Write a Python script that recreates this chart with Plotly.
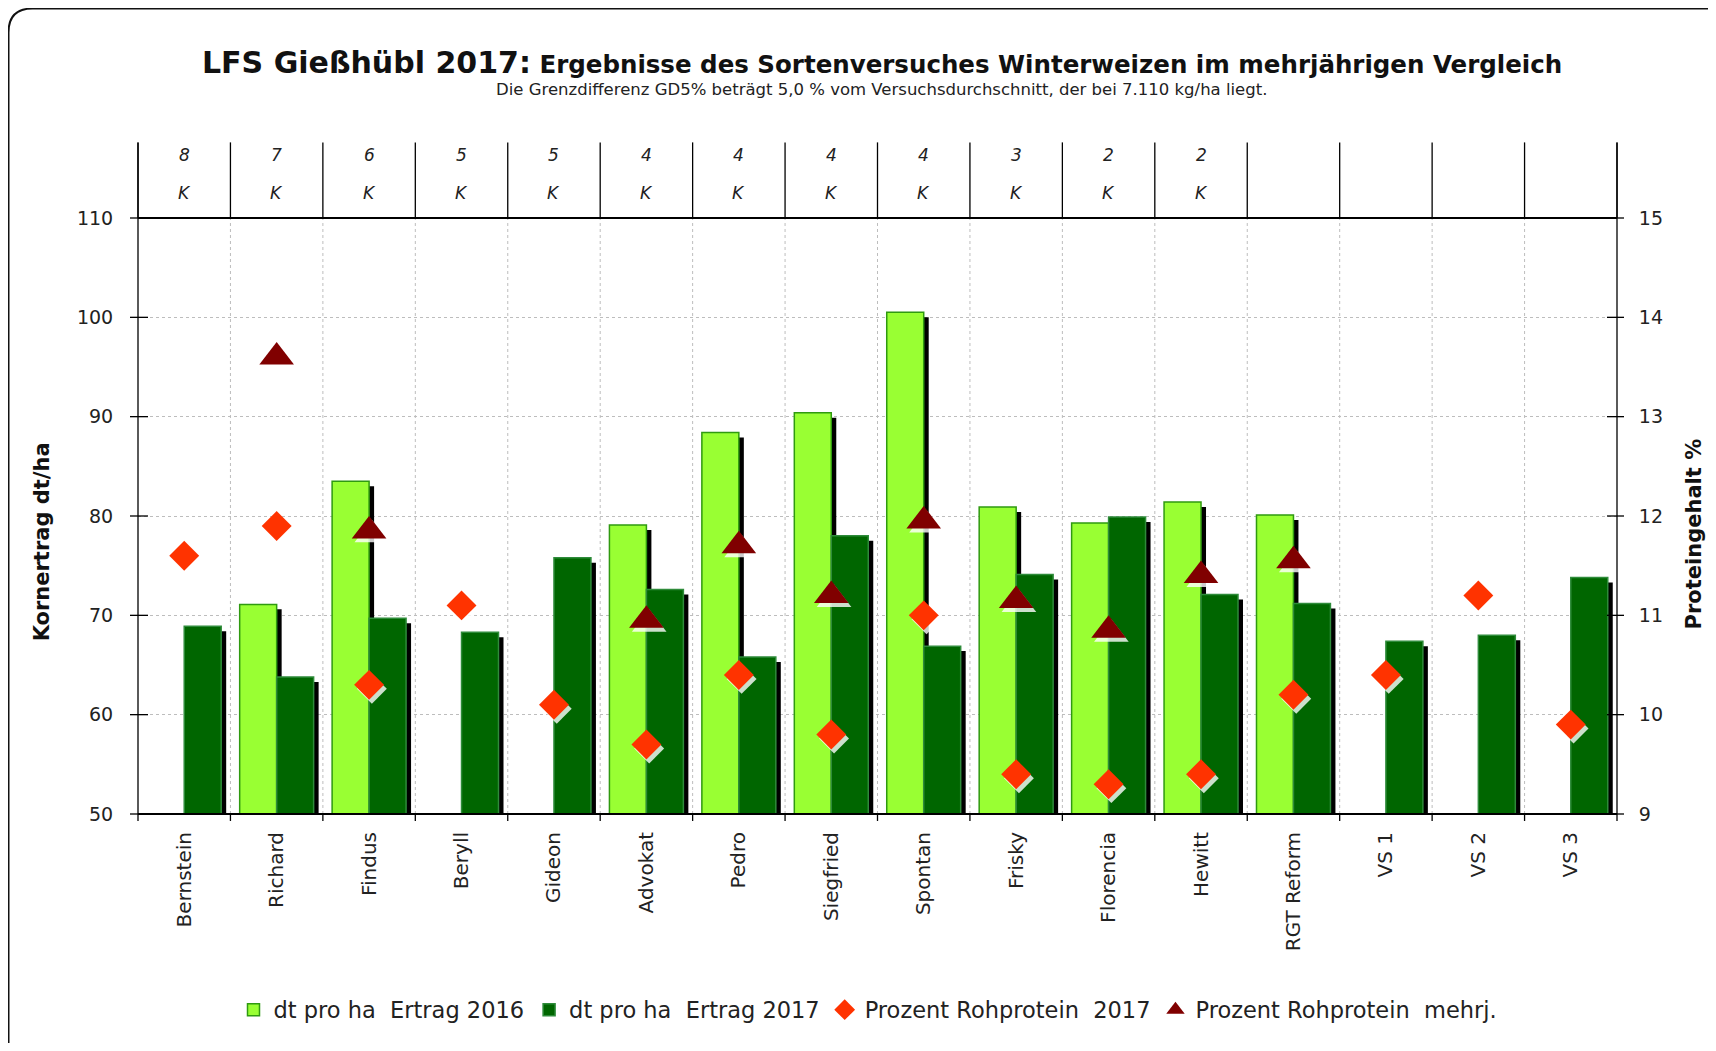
import plotly.graph_objects as go

# ---------------- data ----------------
categories = ["Bernstein", "Richard", "Findus", "Beryll", "Gideon", "Advokat", "Pedro",
              "Siegfried", "Spontan", "Frisky", "Florencia", "Hewitt", "RGT Reform",
              "VS 1", "VS 2", "VS 3"]
ertrag_2016 = [None, 71.1, 83.5, None, None, 79.1, 88.4, 90.4, 100.5, 80.9, 79.3, 81.4, 80.1,
               None, None, None]
ertrag_2017 = [68.9, 63.8, 69.7, 68.3, 75.8, 72.6, 65.8, 78.0, 66.9, 74.1, 79.9, 72.1, 71.2,
               67.4, 68.0, 73.8]
protein_2017 = [11.6, 11.9, 10.3, 11.1, 10.1, 9.7, 10.4, 9.8, 11.0, 9.4, 9.3, 9.4, 10.2,
                10.4, 11.2, 9.9]
protein_mehrj = [None, 13.6, 11.85, None, None, 10.95, 11.7, 11.2, 11.95, 11.15, 10.85, 11.4,
                 11.55, None, None, None]
jahre = ["8", "7", "6", "5", "5", "4", "4", "4", "4", "3", "2", "2", "", "", "", ""]
kennung = ["K"] * 12 + [""] * 4

left_ticks = [50, 60, 70, 80, 90, 100, 110]
right_ticks = [9, 10, 11, 12, 13, 14, 15]

# ---------------- layout geometry (screen pixels) ----------------
OFF = 8                      # page body margin
W, H = 1716 - 2 * OFF, 1051 - 2 * OFF
PL, PT, PR, PB = 138, 218, 1617, 817   # plot area on screen
PW, PH = PR - PL, PB - PT
ML, MT = PL - OFF, PT - OFF
MR, MB = W - ML - PW, H - MT - PH


def px_x(px):
    return (px - PL) / PW


def px_y(py):
    return (PB - py) / PH


FONT = "DejaVu Sans, Verdana, sans-serif"
LIGHT = "#99ff33"
DARK = "#006600"
n = len(categories)
xs = list(range(n))

SHX = 0.054   # shadow offset (category units)
SHY = 0.5     # shadow drop (left axis units)

fig = go.Figure()

fig.add_trace(go.Bar(x=xs, y=[None if v is None else v - SHY for v in ertrag_2016],
                     offset=-0.4 + SHX, width=0.4, marker=dict(color="black", line=dict(width=0)),
                     showlegend=False, hoverinfo="skip"))
fig.add_trace(go.Bar(x=xs, y=ertrag_2016, offset=-0.4, width=0.4, name="dt pro ha\u00a0 Ertrag 2016",
                     marker=dict(color=LIGHT, line=dict(color="#2f9a10", width=1.5))))
fig.add_trace(go.Bar(x=xs, y=[None if v is None else v - SHY for v in ertrag_2017],
                     offset=0 + SHX, width=0.4, marker=dict(color="black", line=dict(width=0)),
                     showlegend=False, hoverinfo="skip"))
fig.add_trace(go.Bar(x=xs, y=ertrag_2017, offset=0, width=0.4, name="dt pro ha\u00a0 Ertrag 2017",
                     marker=dict(color=DARK, line=dict(color="#2e8b3a", width=1.5))))

fig.add_trace(go.Scatter(x=[i + 0.03 for i in xs], y=[None if v is None else v - 0.04 for v in protein_2017],
                         mode="markers", yaxis="y2", showlegend=False, hoverinfo="skip",
                         marker=dict(symbol="diamond", size=23, color="rgba(255,255,255,0.8)")))
fig.add_trace(go.Scatter(x=[i + 0.03 for i in xs], y=[None if v is None else v - 0.04 for v in protein_mehrj],
                         mode="markers", yaxis="y2", showlegend=False, hoverinfo="skip",
                         marker=dict(symbol="triangle-up", size=30, color="rgba(255,255,255,0.8)")))

fig.add_trace(go.Scatter(x=xs, y=protein_2017, mode="markers", yaxis="y2",
                         name="Prozent Rohprotein\u00a0 2017",
                         marker=dict(symbol="diamond", size=23, color="#ff3300", line=dict(width=0))))
fig.add_trace(go.Scatter(x=xs, y=protein_mehrj, mode="markers", yaxis="y2",
                         name="Prozent Rohprotein\u00a0 mehrj.",
                         marker=dict(symbol="triangle-up", size=30, color="#800000", line=dict(width=0))))

shapes = []
line_black = dict(color="black", width=1.3)
grid = dict(color="#bdbdbd", width=1, dash="dot")
hdr_top = px_y(142)

for b in range(n + 1):
    xp = b / n
    if 0 < b < n:
        shapes.append(dict(type="line", xref="paper", yref="paper", x0=xp, x1=xp, y0=0, y1=1, line=grid))
    shapes.append(dict(type="line", xref="paper", yref="paper", x0=xp, x1=xp, y0=1, y1=hdr_top, line=line_black))
    shapes.append(dict(type="line", xref="paper", yref="paper", x0=xp, x1=xp, y0=0, y1=-7 / PH, line=line_black))

shapes.append(dict(type="line", xref="paper", yref="paper", x0=0, x1=0, y0=0, y1=hdr_top, line=line_black))
shapes.append(dict(type="line", xref="paper", yref="paper", x0=1, x1=1, y0=0, y1=hdr_top, line=line_black))
shapes.append(dict(type="line", xref="paper", yref="paper", x0=0, x1=1, y0=0, y1=0, line=dict(color="black", width=2)))
shapes.append(dict(type="line", xref="paper", yref="paper", x0=0, x1=1, y0=1, y1=1, line=dict(color="black", width=2)))

for v in left_ticks:
    yp = (v - left_ticks[0]) / (left_ticks[-1] - left_ticks[0])
    shapes.append(dict(type="line", xref="paper", yref="paper", x0=-8 / PW, x1=10 / PW, y0=yp, y1=yp, line=line_black))
    shapes.append(dict(type="line", xref="paper", yref="paper", x0=1 - 10 / PW, x1=1 + 7 / PW, y0=yp, y1=yp, line=line_black))

bx0, by0, bx1, by1, r = 8.5, 7.5, 1760, 1075, 24
path = (f"M {px_x(bx1)},{px_y(by1)} L {px_x(bx0 + r)},{px_y(by1)} "
        f"Q {px_x(bx0)},{px_y(by1)} {px_x(bx0)},{px_y(by1 - r)} "
        f"L {px_x(bx0)},{px_y(by0 + r)} Q {px_x(bx0)},{px_y(by0)} {px_x(bx0 + r)},{px_y(by0)} "
        f"L {px_x(bx1)},{px_y(by0)}")
shapes.append(dict(type="path", xref="paper", yref="paper", path=path, line=dict(color="#111", width=2)))

annotations = []
for i in xs:
    if jahre[i]:
        annotations.append(dict(x=i, y=px_y(155), xref="x", yref="paper", text=f"<i>{jahre[i]}</i>",
                                showarrow=False, xanchor="center", yanchor="middle",
                                font=dict(family=FONT, size=17, color="#222")))
    if kennung[i]:
        annotations.append(dict(x=i, y=px_y(193), xref="x", yref="paper", text=f"<i>{kennung[i]}</i>",
                                showarrow=False, xanchor="center", yanchor="middle",
                                font=dict(family=FONT, size=17, color="#222")))

annotations.append(dict(x=px_x(882), y=px_y(62), xref="paper", yref="paper", showarrow=False,
                        xanchor="center", yanchor="middle",
                        text="<b><span style='font-size:30px'>LFS Gießhübl 2017:</span> "
                             "Ergebnisse des Sortenversuches Winterweizen im mehrjährigen Vergleich</b>",
                        font=dict(family=FONT, size=24.5, color="#111")))
annotations.append(dict(x=px_x(881), y=px_y(89), xref="paper", yref="paper", showarrow=False,
                        xanchor="center", yanchor="middle",
                        text="Die Grenzdifferenz GD5% beträgt 5,0 % vom Versuchsdurchschnitt, der bei 7.110 kg/ha liegt.",
                        font=dict(family=FONT, size=16.5, color="#222")))
annotations.append(dict(x=px_x(42), y=px_y(544), xref="paper", yref="paper", showarrow=False,
                        xanchor="center", yanchor="middle",
                        text="<b>Kornertrag dt/ha</b>", textangle=-90,
                        font=dict(family=FONT, size=21, color="#111")))
annotations.append(dict(x=px_x(1694), y=px_y(536), xref="paper", yref="paper", showarrow=False,
                        xanchor="center", yanchor="middle",
                        text="<b>Proteingehalt %</b>", textangle=-90,
                        font=dict(family=FONT, size=21, color="#111")))

fig.update_layout(
    width=W, height=H,
    margin=dict(l=ML, r=MR, t=MT, b=MB, pad=0),
    paper_bgcolor="white", plot_bgcolor="white",
    barmode="overlay",
    font=dict(family=FONT, color="#222"),
    xaxis=dict(range=[-0.5, n - 0.5], tickmode="array", tickvals=xs, ticktext=categories,
               tickangle=-90, ticks="outside", ticklen=9, tickcolor="rgba(0,0,0,0)",
               showgrid=False, zeroline=False, showline=False,
               tickfont=dict(family=FONT, size=20, color="#222")),
    yaxis=dict(range=[left_ticks[0], left_ticks[-1]], tickvals=left_ticks, showgrid=True,
               gridcolor="#bdbdbd", griddash="dot", gridwidth=1, zeroline=False, showline=False,
               ticks="outside", ticklen=20, tickcolor="rgba(0,0,0,0)",
               tickfont=dict(family=FONT, size=19, color="#222")),
    yaxis2=dict(range=[right_ticks[0], right_ticks[-1]], tickvals=right_ticks, overlaying="y", side="right",
                showgrid=False, zeroline=False, showline=False,
                ticks="outside", ticklen=17, tickcolor="rgba(0,0,0,0)",
                tickfont=dict(family=FONT, size=19, color="#222")),
    legend=dict(orientation="h", x=px_x(868), xanchor="center", y=px_y(1014), yanchor="middle",
                font=dict(family=FONT, size=22.5, color="#222"), traceorder="normal",
                itemwidth=30, bgcolor="rgba(0,0,0,0)"),
    shapes=shapes,
    annotations=annotations,
)

fig.write_html("out.html")
